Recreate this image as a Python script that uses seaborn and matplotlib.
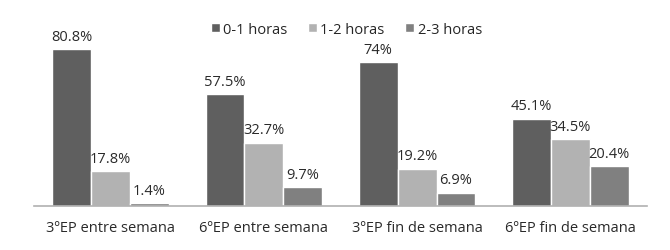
import matplotlib
matplotlib.use("Agg")
import matplotlib.pyplot as plt
import pandas as pd
import seaborn as sns

categories = ["3ºEP entre semana", "6ºEP entre semana", "3ºEP fin de semana", "6ºEP fin de semana"]
series = ["0-1 horas", "1-2 horas", "2-3 horas"]
values_01 = [80.8, 57.5, 74.0, 45.1]
values_12 = [17.8, 32.7, 19.2, 34.5]
values_23 = [1.4, 9.7, 6.9, 20.4]
labels_01 = ["80.8%", "57.5%", "74%", "45.1%"]
labels_12 = ["17.8%", "32.7%", "19.2%", "34.5%"]
labels_23 = ["1.4%", "9.7%", "6.9%", "20.4%"]

colors = ["#5f5f5f", "#b2b2b2", "#808080"]

rows = []
for s, vals in zip(series, [values_01, values_12, values_23]):
    for c, v in zip(categories, vals):
        rows.append({"grupo": c, "serie": s, "valor": v})
df = pd.DataFrame(rows)

sns.set_style("white")
plt.rcParams["font.family"] = ["Open Sans", "DejaVu Sans"]

fig = plt.figure(figsize=(6.7, 2.51), dpi=100)
ax = fig.add_axes([34 / 670, 44 / 251, 613 / 670, 194 / 251])

sns.barplot(data=df, x="grupo", y="valor", hue="serie", palette=colors,
            width=0.76, gap=0, saturation=1, ax=ax, errorbar=None)

for cont, labs in zip(ax.containers, [labels_01, labels_12, labels_23]):
    ax.bar_label(cont, labels=labs, padding=4, fontsize=10.5, color="#2a2a2a")

ax.set_ylim(0, 100)
ax.set_xlim(-0.5, 3.5)
ax.set_xlabel("")
ax.set_ylabel("")
ax.set_yticks([])
for side in ["top", "right", "left"]:
    ax.spines[side].set_visible(False)
ax.spines["bottom"].set_color("#b0b0b0")
ax.spines["bottom"].set_linewidth(1.2)
ax.tick_params(axis="x", length=0, pad=10, labelsize=10.5, colors="#2a2a2a")

ax.legend(loc="center", bbox_to_anchor=(0.517, 0.88), bbox_transform=fig.transFigure,
          ncol=3, frameon=False, fontsize=10.5, handlelength=0.6, handleheight=0.6,
          handletextpad=0.25, columnspacing=1.4)

fig.savefig("out.png", dpi=100)
